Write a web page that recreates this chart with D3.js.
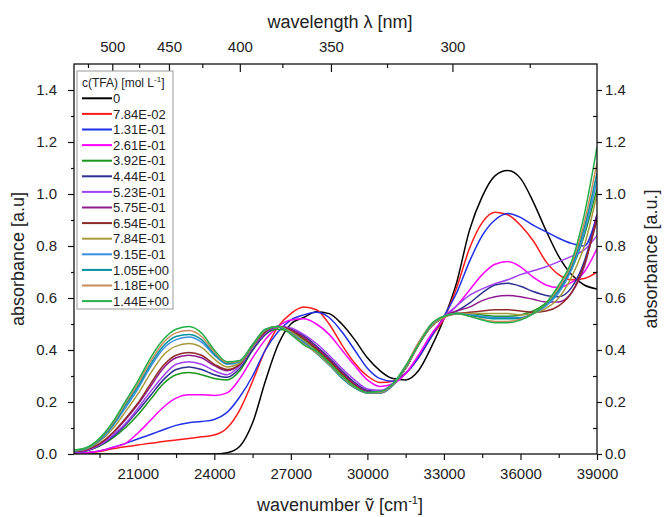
<!DOCTYPE html>
<html>
<head>
<meta charset="utf-8">
<script src="https://cdn.jsdelivr.net/npm/d3@7"></script>
<style>
  body { margin: 0; background: #fff; }
  svg text { font-family: "Liberation Sans", Arial, sans-serif; fill: #222; }
</style>
</head>
<body>
<svg id="chart" width="666" height="517"></svg>
<script>
// wavenumber grid (cm-1), shared by every series
const wavenumbers = [18500, 19000, 19500, 20000, 20500, 21000, 21500, 22000, 22500, 23000, 23500, 24000, 24500, 25000,
  25500, 26000, 26500, 27000, 27500, 28000, 28500, 29000, 29500, 30000, 30500, 31000, 31500, 32000,
  32500, 33000, 33500, 34000, 34500, 35000, 35500, 36000, 36500, 37000, 37500, 38000, 38500, 39000];

const concLabels = ["0", "7.84E-02", "1.31E-01", "2.61E-01", "3.92E-01", "4.44E-01", "5.23E-01",
  "5.75E-01", "6.54E-01", "7.84E-01", "9.15E-01", "1.05E+00", "1.18E+00", "1.44E+00"];

const colors = ["#000000", "#ff1a1a", "#1f2fe8", "#ff00ff", "#1a961a", "#2e3090", "#a040f5",
  "#8e1a8e", "#8f2a2a", "#a89a3c", "#3a8ee0", "#00909e", "#c98a5a", "#22b04a"];

const abs0 = [0, 0, 0, 0, 0, 0, 0, 0, 0, 0, 0, 0, 0.005, 0.03,
  0.12, 0.28, 0.42, 0.5, 0.525, 0.547, 0.54, 0.5, 0.44, 0.37, 0.32, 0.29, 0.285, 0.32,
  0.41, 0.52, 0.66, 0.86, 0.99, 1.07, 1.09, 1.06, 0.97, 0.86, 0.76, 0.69, 0.65, 0.635];
const abs1 = [0, 0.005, 0.01, 0.02, 0.028, 0.035, 0.041, 0.048, 0.054, 0.06, 0.066, 0.073, 0.1, 0.17,
  0.28, 0.4, 0.49, 0.54, 0.565, 0.555, 0.5, 0.42, 0.35, 0.3, 0.275, 0.28, 0.31, 0.37,
  0.45, 0.52, 0.64, 0.79, 0.89, 0.93, 0.92, 0.88, 0.82, 0.74, 0.69, 0.67, 0.675, 0.7];
const abs2 = [0, 0.005, 0.012, 0.025, 0.04, 0.058, 0.075, 0.093, 0.11, 0.12, 0.125, 0.133, 0.16, 0.22,
  0.3, 0.4, 0.47, 0.515, 0.535, 0.545, 0.525, 0.47, 0.4, 0.33, 0.29, 0.28, 0.31, 0.37,
  0.45, 0.53, 0.62, 0.74, 0.84, 0.9, 0.925, 0.91, 0.88, 0.855, 0.83, 0.81, 0.8, 0.92];
const abs3 = [0, 0.005, 0.012, 0.025, 0.04, 0.08, 0.13, 0.18, 0.215, 0.228, 0.228, 0.225, 0.235, 0.29,
  0.37, 0.44, 0.49, 0.515, 0.52, 0.5, 0.46, 0.4, 0.34, 0.285, 0.26, 0.27, 0.31, 0.38,
  0.46, 0.52, 0.57, 0.63, 0.69, 0.73, 0.74, 0.72, 0.68, 0.65, 0.64, 0.66, 0.7, 0.79];
const abs4 = [0.005, 0.012, 0.03, 0.06, 0.1, 0.15, 0.21, 0.27, 0.305, 0.313, 0.305, 0.29, 0.285, 0.32,
  0.4, 0.46, 0.48, 0.47, 0.44, 0.4, 0.355, 0.305, 0.265, 0.24, 0.24, 0.27, 0.33, 0.42,
  0.49, 0.53, 0.54, 0.54, 0.535, 0.53, 0.53, 0.535, 0.55, 0.58, 0.63, 0.71, 0.84, 1.02];
const abs5 = [0.005, 0.012, 0.032, 0.065, 0.11, 0.165, 0.225, 0.285, 0.325, 0.335, 0.325, 0.305, 0.295, 0.33,
  0.4, 0.46, 0.49, 0.48, 0.455, 0.415, 0.37, 0.32, 0.275, 0.245, 0.24, 0.27, 0.33, 0.42,
  0.49, 0.53, 0.55, 0.58, 0.62, 0.65, 0.657, 0.645, 0.625, 0.61, 0.605, 0.64, 0.74, 0.92];
const abs6 = [0.005, 0.013, 0.034, 0.07, 0.115, 0.175, 0.24, 0.3, 0.345, 0.355, 0.345, 0.32, 0.305, 0.34,
  0.41, 0.465, 0.49, 0.485, 0.46, 0.425, 0.38, 0.33, 0.285, 0.25, 0.245, 0.27, 0.33, 0.42,
  0.49, 0.53, 0.57, 0.61, 0.635, 0.655, 0.67, 0.69, 0.705, 0.72, 0.74, 0.76, 0.785, 0.84];
const abs7 = [0.008, 0.015, 0.038, 0.078, 0.13, 0.19, 0.26, 0.33, 0.37, 0.38, 0.37, 0.34, 0.32, 0.345,
  0.415, 0.47, 0.49, 0.48, 0.45, 0.41, 0.365, 0.315, 0.27, 0.24, 0.235, 0.265, 0.33, 0.42,
  0.49, 0.53, 0.55, 0.565, 0.59, 0.605, 0.61, 0.605, 0.595, 0.585, 0.585, 0.62, 0.72, 0.92];
const abs8 = [0.01, 0.018, 0.04, 0.08, 0.135, 0.195, 0.27, 0.34, 0.38, 0.39, 0.38, 0.345, 0.325, 0.345,
  0.415, 0.47, 0.49, 0.475, 0.445, 0.405, 0.36, 0.31, 0.265, 0.237, 0.235, 0.265, 0.33, 0.42,
  0.49, 0.525, 0.54, 0.545, 0.55, 0.555, 0.555, 0.55, 0.545, 0.55, 0.57, 0.62, 0.73, 0.9];
const abs9 = [0.012, 0.02, 0.048, 0.095, 0.16, 0.23, 0.31, 0.38, 0.415, 0.425, 0.41, 0.365, 0.335, 0.35,
  0.415, 0.475, 0.49, 0.47, 0.435, 0.395, 0.35, 0.3, 0.26, 0.235, 0.235, 0.265, 0.33, 0.42,
  0.49, 0.525, 0.54, 0.54, 0.54, 0.54, 0.54, 0.535, 0.54, 0.56, 0.6, 0.68, 0.8, 1.0];
const abs10 = [0.012, 0.022, 0.052, 0.105, 0.175, 0.25, 0.335, 0.405, 0.44, 0.45, 0.43, 0.38, 0.345, 0.355,
  0.42, 0.478, 0.49, 0.465, 0.43, 0.39, 0.345, 0.295, 0.255, 0.235, 0.235, 0.265, 0.335, 0.425,
  0.495, 0.53, 0.54, 0.535, 0.53, 0.525, 0.525, 0.525, 0.54, 0.57, 0.62, 0.71, 0.85, 1.05];
const abs11 = [0.013, 0.023, 0.055, 0.11, 0.185, 0.26, 0.345, 0.415, 0.452, 0.46, 0.44, 0.385, 0.348, 0.357,
  0.42, 0.478, 0.49, 0.463, 0.425, 0.388, 0.342, 0.292, 0.254, 0.235, 0.236, 0.267, 0.336, 0.426,
  0.497, 0.53, 0.54, 0.533, 0.525, 0.52, 0.52, 0.522, 0.54, 0.575, 0.63, 0.72, 0.87, 1.08];
const abs12 = [0.014, 0.024, 0.058, 0.115, 0.193, 0.27, 0.357, 0.428, 0.466, 0.475, 0.452, 0.393, 0.352, 0.358,
  0.42, 0.479, 0.49, 0.462, 0.423, 0.39, 0.345, 0.297, 0.257, 0.236, 0.237, 0.268, 0.338, 0.428,
  0.498, 0.53, 0.54, 0.53, 0.518, 0.51, 0.51, 0.518, 0.54, 0.578, 0.64, 0.73, 0.89, 1.12];
const abs13 = [0.015, 0.025, 0.06, 0.12, 0.2, 0.28, 0.37, 0.44, 0.48, 0.49, 0.465, 0.4, 0.355, 0.36,
  0.42, 0.48, 0.49, 0.46, 0.42, 0.395, 0.35, 0.3, 0.26, 0.237, 0.24, 0.27, 0.34, 0.42,
  0.5, 0.53, 0.54, 0.53, 0.515, 0.505, 0.505, 0.515, 0.54, 0.58, 0.65, 0.74, 0.92, 1.18];

const series = [abs0, abs1, abs2, abs3, abs4, abs5, abs6, abs7, abs8, abs9, abs10, abs11, abs12, abs13];

const bottomTicks = [21000, 24000, 27000, 30000, 33000, 36000, 39000];
const bottomMinor = [19500, 22500, 25500, 28500, 31500, 34500, 37500];
const yTicks = [0, 0.2, 0.4, 0.6, 0.8, 1.0, 1.2, 1.4];
const yMinor = [0.1, 0.3, 0.5, 0.7, 0.9, 1.1, 1.3];
const topTicks = [500, 450, 400, 350, 300];
const topMinor = [525, 475, 425, 375, 325, 275];

const margin = { top: 64, right: 69, bottom: 63, left: 74 };
const width = 666, height = 517;
const innerW = width - margin.left - margin.right;
const innerH = height - margin.top - margin.bottom;

const svg = d3.select("#chart");

const x = d3.scaleLinear().domain([18500, 39000]).range([margin.left, width - margin.right]);
const y = d3.scaleLinear().domain([0, 1.5]).range([height - margin.bottom, margin.top]);
// wavelength (nm) axis: position is linear in 1/lambda
const xTop = d3.scalePow().exponent(-1).domain([1e7 / 18500, 1e7 / 39000]).range([margin.left, width - margin.right]);

svg.append("defs").append("clipPath").attr("id", "clip")
  .append("rect").attr("x", margin.left).attr("y", margin.top).attr("width", innerW).attr("height", innerH);

const line = d3.line()
  .x((d, i) => x(wavenumbers[i]))
  .y(d => y(d))
  .curve(d3.curveMonotoneX);

svg.append("g").attr("clip-path", "url(#clip)")
  .selectAll("path")
  .data(series)
  .join("path")
  .attr("d", d => line(d))
  .attr("fill", "none")
  .attr("stroke", (d, i) => colors[i])
  .attr("stroke-width", 1.5);

const styleAxis = g => {
  g.select(".domain").remove();
  g.selectAll("line").attr("stroke", "#111").attr("stroke-width", 1.2);
  g.selectAll("text").attr("font-size", 15).attr("fill", "#222");
};

// bottom
svg.append("g").attr("transform", `translate(0,${height - margin.bottom})`)
  .call(d3.axisBottom(x).tickValues(bottomTicks).tickSize(6).tickPadding(8).tickFormat(d3.format("d")))
  .call(styleAxis);
svg.append("g").attr("transform", `translate(0,${height - margin.bottom})`)
  .call(d3.axisBottom(x).tickValues(bottomMinor).tickSize(4).tickFormat(""))
  .call(styleAxis);

// left
svg.append("g").attr("transform", `translate(${margin.left},0)`)
  .call(d3.axisLeft(y).tickValues(yTicks).tickSize(6).tickPadding(11).tickFormat(d3.format(".1f")))
  .call(styleAxis);
svg.append("g").attr("transform", `translate(${margin.left},0)`)
  .call(d3.axisLeft(y).tickValues(yMinor).tickSize(3).tickFormat(""))
  .call(styleAxis);

// right
svg.append("g").attr("transform", `translate(${width - margin.right},0)`)
  .call(d3.axisRight(y).tickValues(yTicks).tickSize(5).tickPadding(3).tickFormat(d3.format(".1f")))
  .call(styleAxis);
svg.append("g").attr("transform", `translate(${width - margin.right},0)`)
  .call(d3.axisRight(y).tickValues(yMinor).tickSize(-4).tickFormat(""))
  .call(styleAxis);

// top (wavelength)
svg.append("g").attr("transform", `translate(0,${margin.top})`)
  .call(d3.axisTop(xTop).tickValues(topTicks).tickSize(-8).tickPadding(12).tickFormat(d3.format("d")))
  .call(styleAxis);
svg.append("g").attr("transform", `translate(0,${margin.top})`)
  .call(d3.axisTop(xTop).tickValues(topMinor).tickSize(-4).tickFormat(""))
  .call(styleAxis);

// frame
svg.append("rect")
  .attr("x", margin.left).attr("y", margin.top)
  .attr("width", innerW).attr("height", innerH)
  .attr("fill", "none").attr("stroke", "#111").attr("stroke-width", 1.3);

// axis titles
svg.append("text").attr("x", 340).attr("y", 28).attr("text-anchor", "middle")
  .attr("font-size", 18).text("wavelength λ [nm]");

const xt = svg.append("text").attr("x", 340).attr("y", 511).attr("text-anchor", "middle")
  .attr("font-size", 18);
xt.append("tspan").text("wavenumber ṽ [cm");
xt.append("tspan").attr("font-size", 11).attr("dy", -7).text("-1");
xt.append("tspan").attr("dy", 7).text("]");

svg.append("text")
  .attr("transform", `translate(24,${(margin.top + height - margin.bottom) / 2}) rotate(-90)`)
  .attr("text-anchor", "middle").attr("font-size", 18).text("absorbance [a.u]");

svg.append("text")
  .attr("transform", `translate(657,${(margin.top + height - margin.bottom) / 2}) rotate(-90)`)
  .attr("text-anchor", "middle").attr("font-size", 18).text("absorbance [a.u.]");

// legend
const legend = svg.append("g").attr("transform", "translate(77,71)");
legend.append("rect").attr("width", 96).attr("height", 238)
  .attr("fill", "#fff").attr("stroke", "#9a9a9a").attr("stroke-width", 1);

const lt = legend.append("text").attr("x", 5).attr("y", 15.5).attr("font-size", 12);
lt.append("tspan").text("c(TFA) [mol L");
lt.append("tspan").attr("font-size", 8).attr("dy", -5).text("-1");
lt.append("tspan").attr("dy", 5).text("]");

const rows = legend.selectAll("g.row")
  .data(concLabels)
  .join("g")
  .attr("class", "row")
  .attr("transform", (d, i) => `translate(0,${27.3 + i * 15.6})`);
rows.append("line")
  .attr("x1", 5).attr("x2", 35)
  .attr("stroke", (d, i) => colors[i]).attr("stroke-width", 2);
rows.append("text")
  .attr("x", 36).attr("dy", "0.36em")
  .attr("font-size", 13).text(d => d);
</script>
</body>
</html>
